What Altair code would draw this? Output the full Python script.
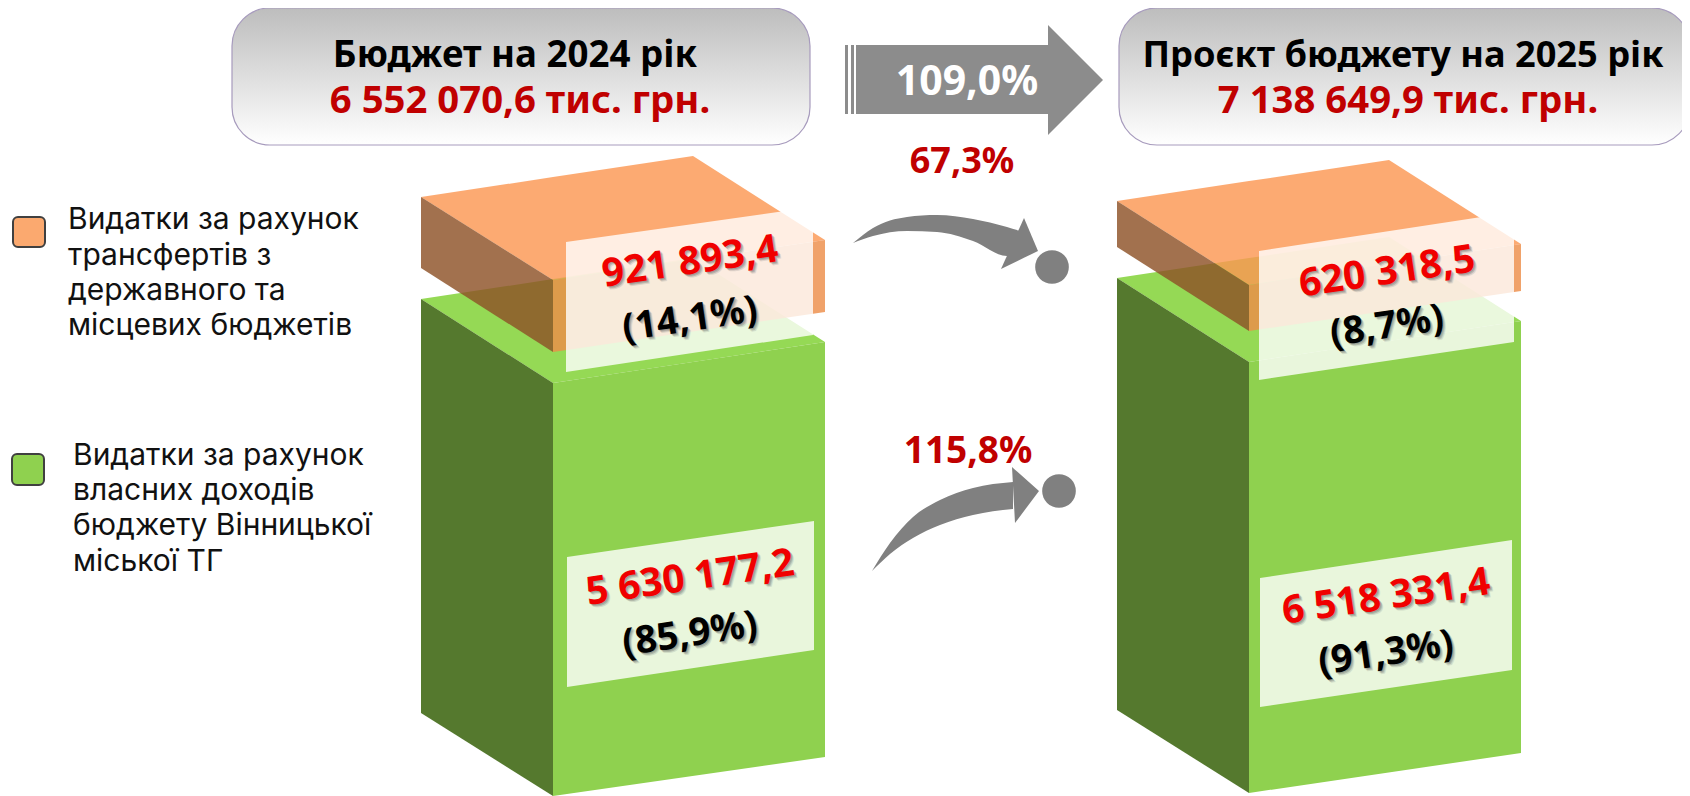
import altair as alt

# --- reference canvas window -------------------------------------------------
X_DOMAIN = [8, 1682]
Y_DOMAIN = [796, 8]
WIDTH = 1674
HEIGHT = 788

# --- texts -------------------------------------------------------------------
header_titles = ["Бюджет на 2024 рік", "Проєкт бюджету на 2025 рік"]
header_totals = ["6 552 070,6 тис. грн.", "7 138 649,9 тис. грн."]
growth_total = "109,0%"
growth_parts = ["67,3%", "115,8%"]
amounts = ["921 893,4", "5 630 177,2", "620 318,5", "6 518 331,4"]
shares = ["(14,1%)", "(85,9%)", "(8,7%)", "(91,3%)"]
legend_orange = ["Видатки за рахунок", "трансфертів з", "державного та", "місцевих бюджетів"]
legend_green = ["Видатки за рахунок", "власних доходів", "бюджету Вінницької", "міської ТГ"]

# --- geometry ----------------------------------------------------------------
orange_top_faces = [[(421, 197), (693, 156), (825, 240), (553, 280)],
                    [(1117, 201), (1389, 160), (1521, 244), (1249, 285)]]
orange_left_faces = [[(421, 197), (553, 280), (553, 352), (421, 268)],
                     [(1117, 201), (1249, 285), (1249, 331), (1117, 247)]]
orange_front_faces = [[(553, 280), (825, 240), (825, 312), (553, 352)],
                      [(1249, 285), (1521, 244), (1521, 291), (1249, 331)]]
green_top_faces = [[(421, 299), (693, 258), (825, 342), (553, 383)],
                   [(1117, 278), (1389, 237), (1521, 321), (1249, 362)]]
green_left_faces = [[(421, 299), (553, 383), (553, 796), (421, 713)],
                    [(1117, 278), (1249, 362), (1249, 793), (1117, 710)]]
green_front_faces = [[(553, 383), (825, 342), (825, 757), (553, 796)],
                     [(1249, 362), (1521, 321), (1521, 753), (1249, 793)]]
label_panels = [[(566, 242), (813, 207), (813, 335), (566, 372)],
                [(567, 557), (814, 521), (814, 650), (567, 687)],
                [(1259, 251), (1514, 212), (1514, 342), (1259, 380)],
                [(1260, 578), (1512, 540), (1512, 670), (1260, 707)]]
big_arrow_head = [(1048, 25), (1103, 80), (1048, 135)]
big_arrow_bars = [(845, 848), (851, 854), (856, 1048)]
curve_bodies = [
    dict(x=[853, 873, 907, 937, 973, 1007, 1020],
         top=[243, 228, 217, 215, 219, 227, 231],
         bottom=[243, 236, 231, 232, 241, 256, 256]),
    dict(x=[872, 890, 913, 940, 973, 1013],
         top=[571, 543, 517, 500, 488, 482],
         bottom=[571, 554, 538, 525, 515, 509]),
]
curve_heads = [[(1001, 269), (1024, 218), (1038, 251)],
               [(1012, 467), (1039, 491), (1015, 523)]]
dots = [(1052, 267), (1059, 491)]

X = lambda f="x": alt.X(f"{f}:Q", scale=alt.Scale(domain=X_DOMAIN, nice=False, zero=False), axis=None)
Y = lambda f="y": alt.Y(f"{f}:Q", scale=alt.Scale(domain=Y_DOMAIN, nice=False, zero=False), axis=None)


def poly(vertices, color, opacity=1.0):
    """Convex polygon with vertical or sloped sides drawn as an area mark."""
    xs = sorted({v[0] for v in vertices})
    rows = []
    n = len(vertices)
    for x in xs:
        ys = []
        for i in range(n):
            (x0, y0), (x1, y1) = vertices[i], vertices[(i + 1) % n]
            if x0 == x1:
                if x == x0:
                    ys += [y0, y1]
            elif min(x0, x1) <= x <= max(x0, x1):
                ys.append(y0 + (y1 - y0) * (x - x0) / (x1 - x0))
        rows.append(dict(x=x, y=min(ys), y2=max(ys)))
    return alt.Chart(alt.Data(values=rows)).mark_area(
        color=color, opacity=opacity, interpolate="linear"
    ).encode(x=X(), y=Y(), y2=alt.Y2("y2:Q"))


def curve(body):
    rows = [dict(x=a, y=b, y2=c) for a, b, c in zip(body["x"], body["top"], body["bottom"])]
    return alt.Chart(alt.Data(values=rows)).mark_area(
        color="#808080", interpolate="monotone"
    ).encode(x=X(), y=Y(), y2=alt.Y2("y2:Q"))


def rect(x0, x1, y0, y1, **mark):
    rows = [dict(x=x0, x2=x1, y=y0, y2=y1)]
    return alt.Chart(alt.Data(values=rows)).mark_rect(**mark).encode(
        x=X(), x2=alt.X2("x2:Q"), y=Y(), y2=alt.Y2("y2:Q"))


def text(label, x, y, **mark):
    rows = [dict(x=x, y=y, label=label)]
    return alt.Chart(alt.Data(values=rows)).mark_text(**mark).encode(
        x=X(), y=Y(), text="label:N")


layers = []

# header plates
plate_fill = alt.LinearGradient(gradient="linear",
                                stops=[alt.GradientStop(color="#BDBDBD", offset=0),
                                       alt.GradientStop(color="#FFFFFF", offset=1)],
                                x1=0, x2=0, y1=0, y2=1)
for x0, x1 in [(232, 810), (1119, 1690)]:
    layers.append(rect(x0, x1, 8, 145, fill=plate_fill, stroke="#A79BBD", strokeWidth=1.2, cornerRadius=38))

HEAD = dict(font="Noto Sans", fontWeight="bold", align="center", baseline="alphabetic")
layers.append(text(header_titles[0], 515, 67, color="#000000", fontSize=36.7, **HEAD))
layers.append(text(header_totals[0], 520, 113, color="#C00000", fontSize=38.3, **HEAD))
layers.append(text(header_titles[1], 1403, 67, color="#000000", fontSize=36.2, **HEAD))
layers.append(text(header_totals[1], 1408, 113, color="#C00000", fontSize=38.3, **HEAD))

# large arrow
for x0, x1 in big_arrow_bars:
    layers.append(rect(x0, x1, 45, 114, color="#8C8C8C"))
layers.append(poly(big_arrow_head, "#8C8C8C"))
layers.append(text(growth_total, 967, 95, color="#FFFFFF", font="Noto Sans", fontWeight="bold",
                   fontSize=41, align="center", baseline="alphabetic"))

# boxes
for i in range(2):
    layers.append(poly(green_top_faces[i], "#95D955"))
    layers.append(poly(green_left_faces[i], "#55792E"))
    layers.append(poly(green_front_faces[i], "#8FD14F"))
    layers.append(poly(orange_top_faces[i], "#FB9753", 0.82))
    layers.append(poly(orange_left_faces[i], "#8D5227", 0.82))
    layers.append(poly(orange_front_faces[i], "#ED8D49", 0.82))

for p in label_panels:
    layers.append(poly(p, "#FFFFFF", 0.8))

# value labels
label_xy = [((690, 262), (690, 320)), ((690, 578), (690, 635)),
            ((1387, 272), (1387, 327)), ((1386, 597), (1386, 654))]
LABEL = dict(font="Noto Sans", fontWeight="bold", align="center", baseline="middle", angle=351.7)
for amount, share, (p_a, p_s) in zip(amounts, shares, label_xy):
    for off, alpha in [(1, 0.25), (2, 0.25), (3, 0.15)]:
        layers.append(text(amount, p_a[0] + off, p_a[1] + off, color="#555555", opacity=alpha, fontSize=39, **LABEL))
        layers.append(text(share, p_s[0] + off, p_s[1] + off, color="#555555", opacity=alpha, fontSize=38, **LABEL))
    layers.append(text(amount, p_a[0], p_a[1], color="#F00000", fontSize=39, **LABEL))
    layers.append(text(share, p_s[0], p_s[1], color="#000000", fontSize=38, **LABEL))

# curved arrows
for body, head in zip(curve_bodies, curve_heads):
    layers.append(curve(body))
    layers.append(poly(head, "#808080"))
layers.append(alt.Chart(alt.Data(values=[dict(x=a, y=b) for a, b in dots])).mark_point(
    filled=True, color="#808080", opacity=1, size=1134, shape="circle").encode(x=X(), y=Y()))

PCT = dict(font="Noto Sans", fontWeight="bold", color="#C00000", align="center", baseline="alphabetic")
layers.append(text(growth_parts[0], 962, 173, fontSize=36, **PCT))
layers.append(text(growth_parts[1], 968, 463, fontSize=37, **PCT))

# legend
layers.append(rect(13, 45, 217, 247, fill="#FBA96F", stroke="#404040", strokeWidth=2, cornerRadius=5))
layers.append(rect(12, 44, 454, 485, fill="#8FD14F", stroke="#404040", strokeWidth=2, cornerRadius=5))
LEG = dict(font="Inter", fontSize=30, color="#111111", align="left", baseline="alphabetic")
for line, yy in zip(legend_orange, [229, 265, 300, 335]):
    layers.append(text(line, 68, yy, **LEG))
for line, yy in zip(legend_green, [465, 500, 535, 571]):
    layers.append(text(line, 73, yy, **LEG))

chart = alt.layer(*layers).properties(
    width=WIDTH, height=HEIGHT, padding=0, autosize=alt.AutoSizeParams(type="none"),
).configure_view(stroke=None)

chart.save("out.html", embed_options={"renderer": "svg", "actions": False})
